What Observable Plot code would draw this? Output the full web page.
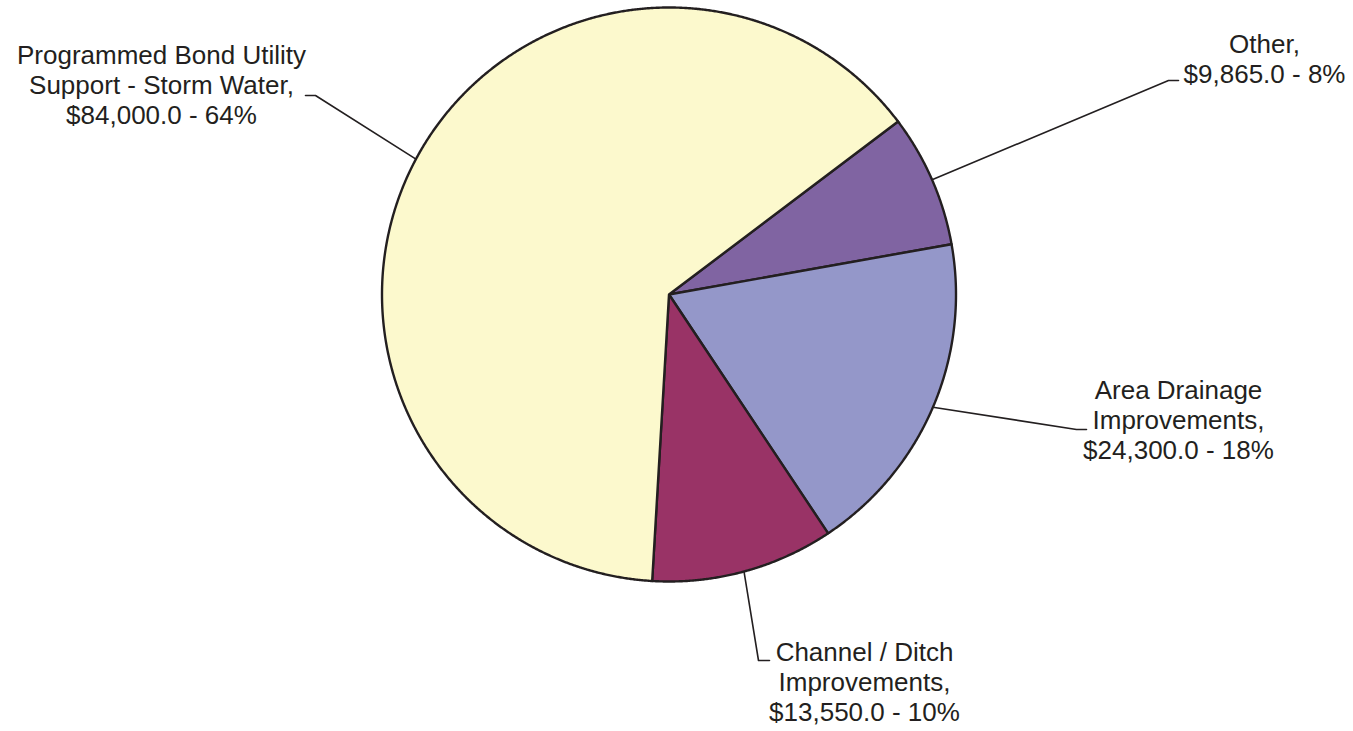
<!DOCTYPE html>
<html>
<head>
<meta charset="utf-8">
<script src="https://cdn.jsdelivr.net/npm/d3@7"></script>
<script src="https://cdn.jsdelivr.net/npm/@observablehq/plot@0.6"></script>
<style>
  html, body { margin: 0; padding: 0; background: #ffffff; }
  #chart svg { display: block; }
</style>
</head>
<body>
<div id="chart"></div>
<script>
// ---- data ----
const categories = ["Other", "Area Drainage Improvements", "Channel / Ditch Improvements", "Programmed Bond Utility Support - Storm Water"];
const values = [9865, 24300, 13550, 84000];
const percents = [8, 18, 10, 64];
const labelNames = ["Other,", "Area Drainage\nImprovements,", "Channel / Ditch\nImprovements,", "Programmed Bond Utility\nSupport - Storm Water,"];
const colors = ["#8064a2", "#9497c9", "#993366", "#fcf9cd"];

// ---- layout ----
const W = 1353, H = 731;
const cx = 668.5, cy = 294, R = 287;
const startDeg = 52.95;
// label anchor (center x, last baseline y) and leader elbow/end points, in px
const labelLayout = {
  "Other": {lx: 1264, ly: 82, elbow: [1168, 80], end: [1178, 80]},
  "Area Drainage Improvements": {lx: 1178, ly: 458, elbow: [1076, 429], end: [1086, 429]},
  "Channel / Ditch Improvements": {lx: 864, ly: 720, elbow: [758, 660], end: [769, 660]},
  "Programmed Bond Utility Support - Storm Water": {lx: 161, ly: 123, elbow: [315, 95], end: [305, 95]}
};

const rows = categories.map((name, i) => ({name, value: values[i], pct: percents[i], labelName: labelNames[i]}));
const a0 = startDeg * Math.PI / 180;
const arcs = d3.pie().sort(null).value(d => d.value).startAngle(a0).endAngle(a0 + 2 * Math.PI)(rows);

const px = a => cx + R * Math.sin(a);
const py = a => cy - R * Math.cos(a);

const slicePts = [];
for (const arc of arcs) {
  const name = arc.data.name;
  slicePts.push({name, x: cx, y: cy});
  const n = Math.max(2, Math.ceil((arc.endAngle - arc.startAngle) / (0.25 * Math.PI / 180)));
  for (let k = 0; k <= n; k++) {
    const a = arc.startAngle + (arc.endAngle - arc.startAngle) * k / n;
    slicePts.push({name, x: px(a), y: py(a)});
  }
}

const leaderPts = [];
const labelRows = [];
for (const arc of arcs) {
  const name = arc.data.name;
  const L = labelLayout[name];
  const mid = (arc.startAngle + arc.endAngle) / 2;
  leaderPts.push({name, x: px(mid), y: py(mid)});
  leaderPts.push({name, x: L.elbow[0], y: L.elbow[1]});
  leaderPts.push({name, x: L.end[0], y: L.end[1]});
  labelRows.push({
    name, x: L.lx, y: L.ly,
    text: arc.data.labelName + "\n$" + d3.format(",.1f")(arc.data.value) + " - " + arc.data.pct + "%"
  });
}

const chart = Plot.plot({
  width: W,
  height: H,
  margin: 0,
  x: {domain: [0, W], range: [0, W], axis: null},
  y: {domain: [0, H], range: [0, H], axis: null},
  color: {domain: categories, range: colors},
  style: {background: "#ffffff"},
  marks: [
    Plot.line(slicePts, {x: "x", y: "y", z: "name", fill: "name", stroke: "#231f20", strokeWidth: 2.4, strokeLinejoin: "round", curve: "linear-closed"}),
    Plot.line(leaderPts, {x: "x", y: "y", z: "name", stroke: "#231f20", strokeWidth: 1.6, fill: "none"}),
    Plot.text(labelRows, {x: "x", y: "y", text: "text", lineAnchor: "bottom", textAnchor: "middle", fontSize: 26, lineHeight: 30 / 26, fontFamily: "'Liberation Sans', Arial, sans-serif", fill: "#231f20"})
  ]
});
document.getElementById("chart").appendChild(chart);
</script>
</body>
</html>
